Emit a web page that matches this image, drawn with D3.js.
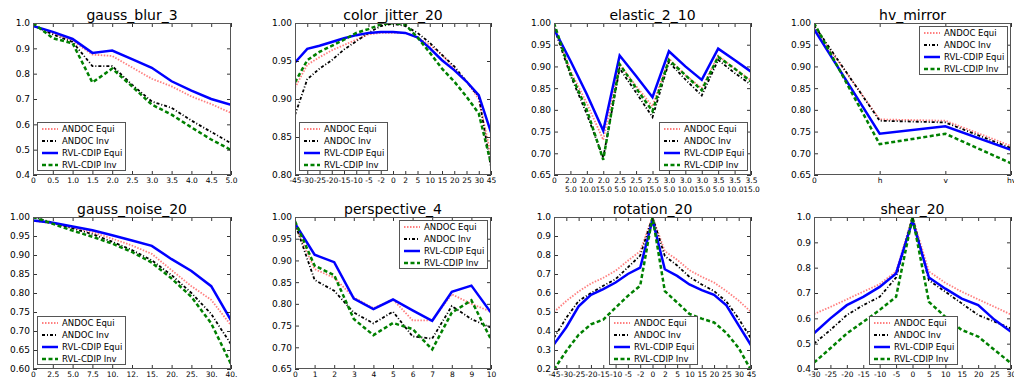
<!DOCTYPE html>
<html>
<head>
<meta charset="utf-8">
<script src="https://cdn.jsdelivr.net/npm/d3@7"></script>
<style>
  body { margin: 0; background: #fff; }
  text { font-family: "DejaVu Sans", sans-serif; fill: #000; }
</style>
</head>
<body>
<svg id="chart" width="1014" height="379"></svg>
<script>
// ---- x tick labels (categories) ----
const blurTicks = ["0","0.5","1.0","1.5","2.0","2.5","3.0","3.5","4.0","4.5","5.0"];
const angleTicks = ["-45","-30","-25","-20","-15","-10","-5","-2","0","2","5","10","15","20","25","30","45"];
const elasticTicks = ["0","2.0\n5.0","2.0\n10.0","2.0\n15.0","2.5\n5.0","2.5\n10.0","2.5\n15.0",
                      "3.0\n5.0","3.0\n10.0","3.0\n15.0","3.5\n5.0","3.5\n10.0","3.5\n15.0"];
const mirrorTicks = ["0","h","v","hv"];
const noiseTicks = ["0","2.5","5.0","7.5","10.","12.","15.","20.","25.","30.","40."];
const perspectiveTicks = ["0","1","2","3","4","5","6","7","8","9","10"];
const shearTicks = ["-30","-25","-20","-15","-10","-5","0","5","10","15","20","25","30"];

// ---- y tick values ----
const blurY = [0.4,0.5,0.6,0.7,0.8,0.9,1.0];
const jitterY = [0.80,0.85,0.90,0.95,1.00];
const elasticY = [0.65,0.70,0.75,0.80,0.85,0.90,0.95,1.00];
const mirrorY = [0.65,0.70,0.75,0.80,0.85,0.90,0.95,1.00];
const noiseY = [0.60,0.65,0.70,0.75,0.80,0.85,0.90,0.95,1.00];
const perspectiveY = [0.65,0.70,0.75,0.80,0.85,0.90,0.95,1.00];
const rotationY = [0.2,0.3,0.4,0.5,0.6,0.7,0.8,0.9,1.0];
const shearY = [0.4,0.5,0.6,0.7,0.8,0.9,1.0];

// ---- series values ----
const blurAndocEqui = [0.99,0.96,0.93,0.875,0.87,0.825,0.78,0.75,0.71,0.68,0.645];
const blurAndocInv  = [0.99,0.955,0.925,0.83,0.83,0.757,0.69,0.665,0.615,0.57,0.525];
const blurRvlEqui   = [0.988,0.965,0.937,0.882,0.891,0.857,0.823,0.770,0.733,0.700,0.677];
const blurRvlInv    = [1.0,0.94,0.92,0.765,0.82,0.75,0.678,0.638,0.588,0.54,0.499];

const jitterAndocEqui = [0.915,0.945,0.955,0.964,0.971,0.978,0.985,0.987,0.987,0.987,0.981,0.971,0.958,0.940,0.923,0.900,0.826];
const jitterAndocInv  = [0.879,0.926,0.940,0.951,0.965,0.976,0.987,0.996,0.999,0.996,0.987,0.974,0.958,0.943,0.923,0.903,0.810];
const jitterRvlEqui   = [0.948,0.966,0.970,0.975,0.980,0.984,0.987,0.988,0.988,0.987,0.981,0.967,0.951,0.938,0.923,0.905,0.856];
const jitterRvlInv    = [0.922,0.951,0.962,0.970,0.978,0.987,0.992,0.998,1.000,0.998,0.981,0.961,0.940,0.923,0.903,0.881,0.815];

const elasticAndocEqui = [0.99,0.89,0.815,0.731,0.905,0.855,0.808,0.918,0.88,0.85,0.925,0.895,0.868];
const elasticAndocInv  = [0.99,0.88,0.79,0.69,0.895,0.84,0.783,0.91,0.87,0.833,0.915,0.885,0.858];
const elasticRvlEqui   = [0.986,0.913,0.836,0.752,0.925,0.878,0.829,0.935,0.90,0.869,0.941,0.915,0.888];
const elasticRvlInv    = [1.0,0.885,0.80,0.685,0.905,0.85,0.797,0.915,0.88,0.845,0.922,0.895,0.865];

const mirrorAndocEqui = [0.99,0.778,0.775,0.717];
const mirrorAndocInv  = [0.995,0.775,0.771,0.712];
const mirrorRvlEqui   = [0.986,0.745,0.762,0.708];
const mirrorRvlInv    = [1.0,0.721,0.745,0.677];

const noiseAndocEqui = [0.99,0.983,0.972,0.96,0.943,0.925,0.903,0.86,0.818,0.782,0.715];
const noiseAndocInv  = [1.0,0.985,0.97,0.955,0.935,0.913,0.886,0.847,0.80,0.745,0.665];
const noiseRvlEqui   = [0.991,0.985,0.975,0.965,0.952,0.938,0.924,0.889,0.858,0.818,0.728];
const noiseRvlInv    = [1.0,0.982,0.964,0.948,0.93,0.908,0.88,0.838,0.79,0.72,0.613];

const perspectiveAndocEqui = [0.98,0.88,0.86,0.815,0.79,0.81,0.762,0.762,0.822,0.80,0.782];
const perspectiveAndocInv  = [0.985,0.855,0.83,0.78,0.755,0.782,0.725,0.72,0.795,0.765,0.745];
const perspectiveRvlEqui   = [0.985,0.913,0.896,0.812,0.788,0.81,0.785,0.761,0.828,0.842,0.78];
const perspectiveRvlInv    = [0.99,0.888,0.866,0.765,0.728,0.756,0.742,0.695,0.78,0.808,0.718];

const rotationAndocEqui = [0.50,0.558,0.608,0.65,0.68,0.717,0.77,0.82,1.0,0.82,0.775,0.72,0.685,0.655,0.61,0.56,0.50];
const rotationAndocInv  = [0.364,0.47,0.558,0.60,0.638,0.673,0.735,0.797,1.0,0.795,0.745,0.685,0.645,0.61,0.555,0.465,0.36];
const rotationRvlEqui   = [0.33,0.42,0.53,0.59,0.62,0.655,0.70,0.733,0.985,0.725,0.69,0.645,0.615,0.59,0.535,0.43,0.325];
const rotationRvlInv    = [0.197,0.295,0.38,0.435,0.46,0.523,0.585,0.638,1.0,0.61,0.55,0.49,0.465,0.445,0.39,0.31,0.195];

const shearAndocEqui = [0.617,0.645,0.675,0.705,0.735,0.785,1.0,0.785,0.74,0.705,0.675,0.645,0.615];
const shearAndocInv  = [0.50,0.554,0.613,0.652,0.685,0.761,1.0,0.75,0.705,0.659,0.613,0.587,0.56];
const shearRvlEqui   = [0.541,0.60,0.652,0.685,0.724,0.777,0.985,0.761,0.717,0.678,0.652,0.594,0.547];
const shearRvlInv    = [0.425,0.482,0.54,0.586,0.633,0.685,1.0,0.665,0.606,0.554,0.528,0.475,0.423];

// ---- series styling ----
const seriesNames = ["ANDOC Equi","ANDOC Inv","RVL-CDIP Equi","RVL-CDIP Inv"];
const seriesStyles = [
  { color: "#ff0000", opacity: 0.5, width: 1.8, dash: "1.5,1.5" },
  { color: "#000000", opacity: 1,   width: 1.8, dash: "3,2,1,2" },
  { color: "#0000ff", opacity: 1,   width: 2.5, dash: null },
  { color: "#008000", opacity: 1,   width: 2.5, dash: "4,2.5" }
];

// ---- panel table built from the arrays above ----
const panels = [
  { title: "gauss_blur_3", x: blurTicks, y: blurY, fmt: ".1f", legend: "ll",
    series: [blurAndocEqui, blurAndocInv, blurRvlEqui, blurRvlInv] },
  { title: "color_jitter_20", x: angleTicks, y: jitterY, fmt: ".2f", legend: "ll",
    series: [jitterAndocEqui, jitterAndocInv, jitterRvlEqui, jitterRvlInv] },
  { title: "elastic_2_10", x: elasticTicks, y: elasticY, fmt: ".2f", legend: "lr",
    series: [elasticAndocEqui, elasticAndocInv, elasticRvlEqui, elasticRvlInv] },
  { title: "hv_mirror", x: mirrorTicks, y: mirrorY, fmt: ".2f", legend: "ur",
    series: [mirrorAndocEqui, mirrorAndocInv, mirrorRvlEqui, mirrorRvlInv] },
  { title: "gauss_noise_20", x: noiseTicks, y: noiseY, fmt: ".2f", legend: "ll",
    series: [noiseAndocEqui, noiseAndocInv, noiseRvlEqui, noiseRvlInv] },
  { title: "perspective_4", x: perspectiveTicks, y: perspectiveY, fmt: ".2f", legend: "ur",
    series: [perspectiveAndocEqui, perspectiveAndocInv, perspectiveRvlEqui, perspectiveRvlInv] },
  { title: "rotation_20", x: angleTicks, y: rotationY, fmt: ".1f", legend: "lc",
    series: [rotationAndocEqui, rotationAndocInv, rotationRvlEqui, rotationRvlInv] },
  { title: "shear_20", x: shearTicks, y: shearY, fmt: ".1f", legend: "lc",
    series: [shearAndocEqui, shearAndocInv, shearRvlEqui, shearRvlInv] }
];

// ---- grid layout ----
const colEdges = [[33, 231], [295, 491], [554, 751], [814, 1011]];
const rowEdges = [[23, 175], [217, 369]];

const svg = d3.select("#chart");

panels.forEach((p, idx) => {
  const [x0, x1] = colEdges[idx % 4];
  const [y0, y1] = rowEdges[Math.floor(idx / 4)];
  const w = x1 - x0, h = y1 - y0;

  const g = svg.append("g").attr("transform", `translate(${x0},${y0})`);

  const x = d3.scalePoint().domain(p.x).range([0, w]).padding(0);
  const y = d3.scaleLinear().domain([p.y[0], p.y[p.y.length - 1]]).range([h, 0]);

  // clip region for the lines
  const clipId = "clip" + idx;
  g.append("clipPath").attr("id", clipId)
    .append("rect").attr("width", w).attr("height", h);

  // lines
  const line = d3.line().x((d, i) => x(p.x[i])).y(d => y(d));
  const lines = g.append("g").attr("clip-path", `url(#${clipId})`);
  p.series.forEach((vals, si) => {
    const st = seriesStyles[si];
    lines.append("path")
      .datum(vals)
      .attr("d", line)
      .attr("fill", "none")
      .attr("stroke", st.color)
      .attr("stroke-opacity", st.opacity)
      .attr("stroke-width", st.width)
      .attr("stroke-dasharray", st.dash)
      .attr("stroke-linejoin", "miter");
  });

  // axes with inward ticks on all four sides
  const fmt = d3.format(p.fmt);
  const bottom = g.append("g").attr("transform", `translate(0,${h})`)
    .call(d3.axisBottom(x).tickSize(-4).tickSizeOuter(0).tickPadding(3));
  g.append("g")
    .call(d3.axisTop(x).tickSize(-4).tickSizeOuter(0).tickFormat(""));
  const left = g.append("g")
    .call(d3.axisLeft(y).tickValues(p.y).tickFormat(fmt).tickSize(-4).tickSizeOuter(0).tickPadding(3));
  g.append("g").attr("transform", `translate(${w},0)`)
    .call(d3.axisRight(y).tickValues(p.y).tickFormat("").tickSize(-4).tickSizeOuter(0));

  g.selectAll(".domain").remove();
  g.selectAll(".tick line").attr("stroke", "#000").attr("stroke-width", 0.8);
  g.selectAll(".tick text").attr("font-family", "DejaVu Sans").attr("fill", "#000");
  left.selectAll(".tick text").attr("font-size", 9);
  bottom.selectAll(".tick text").attr("font-size", 7.5);

  // two-line category labels
  bottom.selectAll(".tick text").each(function(d) {
    const parts = String(d).split("\n");
    if (parts.length > 1) {
      const t = d3.select(this);
      t.text(null);
      parts.forEach((s, k) => {
        t.append("tspan").attr("x", 0).attr("dy", k === 0 ? "0.71em" : "1.1em").text(s);
      });
      t.attr("dy", null);
    }
  });

  // frame
  g.append("rect")
    .attr("x", 0.5).attr("y", 0.5).attr("width", w - 1).attr("height", h - 1)
    .attr("fill", "none").attr("stroke", "#555").attr("stroke-width", 1);

  // title
  g.append("text")
    .attr("x", w / 2).attr("y", -3.5)
    .attr("text-anchor", "middle")
    .attr("font-size", 14)
    .text(p.title);

  // legend
  const leg = g.append("g");
  const box = leg.append("rect").attr("fill", "#fff").attr("stroke", "#555").attr("stroke-width", 1);
  let maxW = 0;
  seriesNames.forEach((name, si) => {
    const st = seriesStyles[si];
    const cy = 6 + 12 * si;
    leg.append("line")
      .attr("x1", 5).attr("x2", 21).attr("y1", cy).attr("y2", cy)
      .attr("stroke", st.color).attr("stroke-opacity", st.opacity)
      .attr("stroke-width", st.width).attr("stroke-dasharray", st.dash);
    const t = leg.append("text")
      .attr("x", 25).attr("y", cy).attr("dy", "0.35em")
      .attr("font-size", 8.5).text(name);
    maxW = Math.max(maxW, t.node().getComputedTextLength());
  });
  const bw = Math.round(25 + maxW + 3), bh = 48;
  box.attr("x", 0.5).attr("y", -0.5).attr("width", bw).attr("height", bh);
  let lx, ly;
  const pad = 4;
  if (p.legend === "ll") { lx = pad; ly = h - pad - bh; }
  else if (p.legend === "lr") { lx = w - pad - bw; ly = h - pad - bh; }
  else if (p.legend === "ur") { lx = w - pad - bw; ly = pad; }
  else { lx = Math.round((w - bw) / 2); ly = h - pad - bh; }
  leg.attr("transform", `translate(${Math.round(lx)},${Math.round(ly)})`);
});
</script>
</body>
</html>
